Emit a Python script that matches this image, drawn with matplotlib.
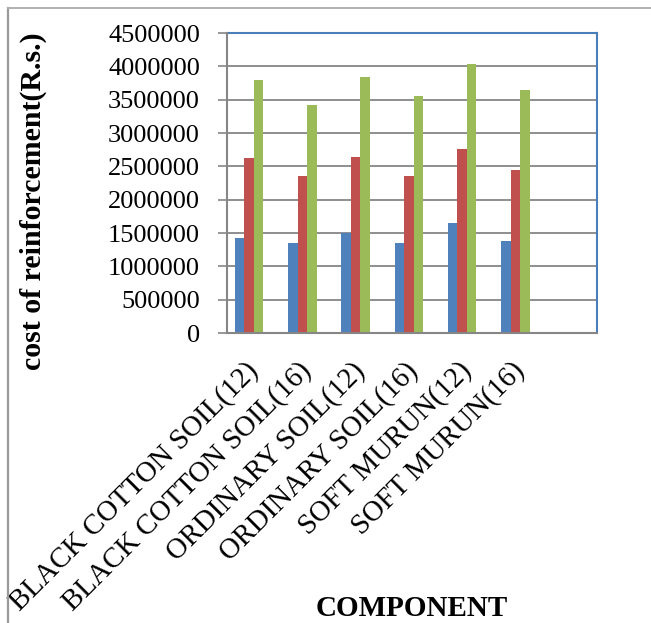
import matplotlib
matplotlib.use("Agg")
import matplotlib.pyplot as plt
import matplotlib.transforms as mtransforms
from matplotlib.lines import Line2D
import numpy as np

plt.rcParams['font.family'] = ['Liberation Serif', 'DejaVu Serif']

categories = ["BLACK COTTON SOIL(12)", "BLACK COTTON SOIL(16)",
              "ORDINARY SOIL(12)", "ORDINARY SOIL(16)",
              "SOFT MURUN(12)", "SOFT MURUN(16)"]
series_1 = [1420000, 1345000, 1495000, 1345000, 1645000, 1380000]
series_2 = [2620000, 2355000, 2640000, 2355000, 2760000, 2440000]
series_3 = [3790000, 3420000, 3845000, 3560000, 4040000, 3650000]
y_ticks = [0, 500000, 1000000, 1500000, 2000000, 2500000,
           3000000, 3500000, 4000000, 4500000]

colors = ["#4F81BD", "#C0504D", "#9BBB59"]
grid_gray = "#868686"

W, H = 651, 623
fig = plt.figure(figsize=(W / 100, H / 100), dpi=100)

# page frame lines around the figure
fig.add_artist(Line2D([8 / W, 8 / W], [0, 1 - 8 / H], transform=fig.transFigure,
                      color="#9a9a9a", lw=1.6))
fig.add_artist(Line2D([8 / W, 1], [1 - 8 / H, 1 - 8 / H], transform=fig.transFigure,
                      color="#b0b0b0", lw=1.4))

ax = fig.add_axes([227 / W, (H - 333) / H, 370 / W, 300 / H])

x = np.arange(len(categories))
bw = 0.178
for k, (vals, c) in enumerate(zip([series_1, series_2, series_3], colors)):
    ax.bar(x + (k - 1) * bw, vals, width=bw, color=c, zorder=3)

ax.set_xlim(-0.413, 6.53)
ax.set_ylim(0, 4500000)
ax.set_yticks(y_ticks)
ax.set_yticklabels([str(v) for v in y_ticks], fontsize=19)
ax.yaxis.grid(True, color=grid_gray, lw=1.3, zorder=1)
ax.set_axisbelow(True)

ax.tick_params(axis='y', direction='out', length=6.5, width=1.2, color=grid_gray, pad=13)
ax.tick_params(axis='x', length=0)

for side in ("top", "right"):
    ax.spines[side].set_color("#4A7EBB")
    ax.spines[side].set_linewidth(1.5)
for side in ("left", "bottom"):
    ax.spines[side].set_color(grid_gray)
    ax.spines[side].set_linewidth(1.5)
    ax.spines[side].set_zorder(4)

ax.set_xticks(x)
ax.set_xticklabels(categories, rotation=45, ha='right', va='center',
                   rotation_mode='anchor', fontsize=20.7)
shift = mtransforms.ScaledTranslation(0.05, -0.29, fig.dpi_scale_trans)
for lab in ax.get_xticklabels():
    lab.set_transform(lab.get_transform() + shift)

fig.text(33 / W, 1 - 201 / H, "cost of reinforcement(R.s.)", rotation=90,
         ha='center', va='center', fontsize=21.5, fontweight='bold')
fig.text(412 / W, 1 - 608 / H, "COMPONENT", ha='center', va='center',
         fontsize=21, fontweight='bold')

fig.savefig("out.png", dpi=100)
